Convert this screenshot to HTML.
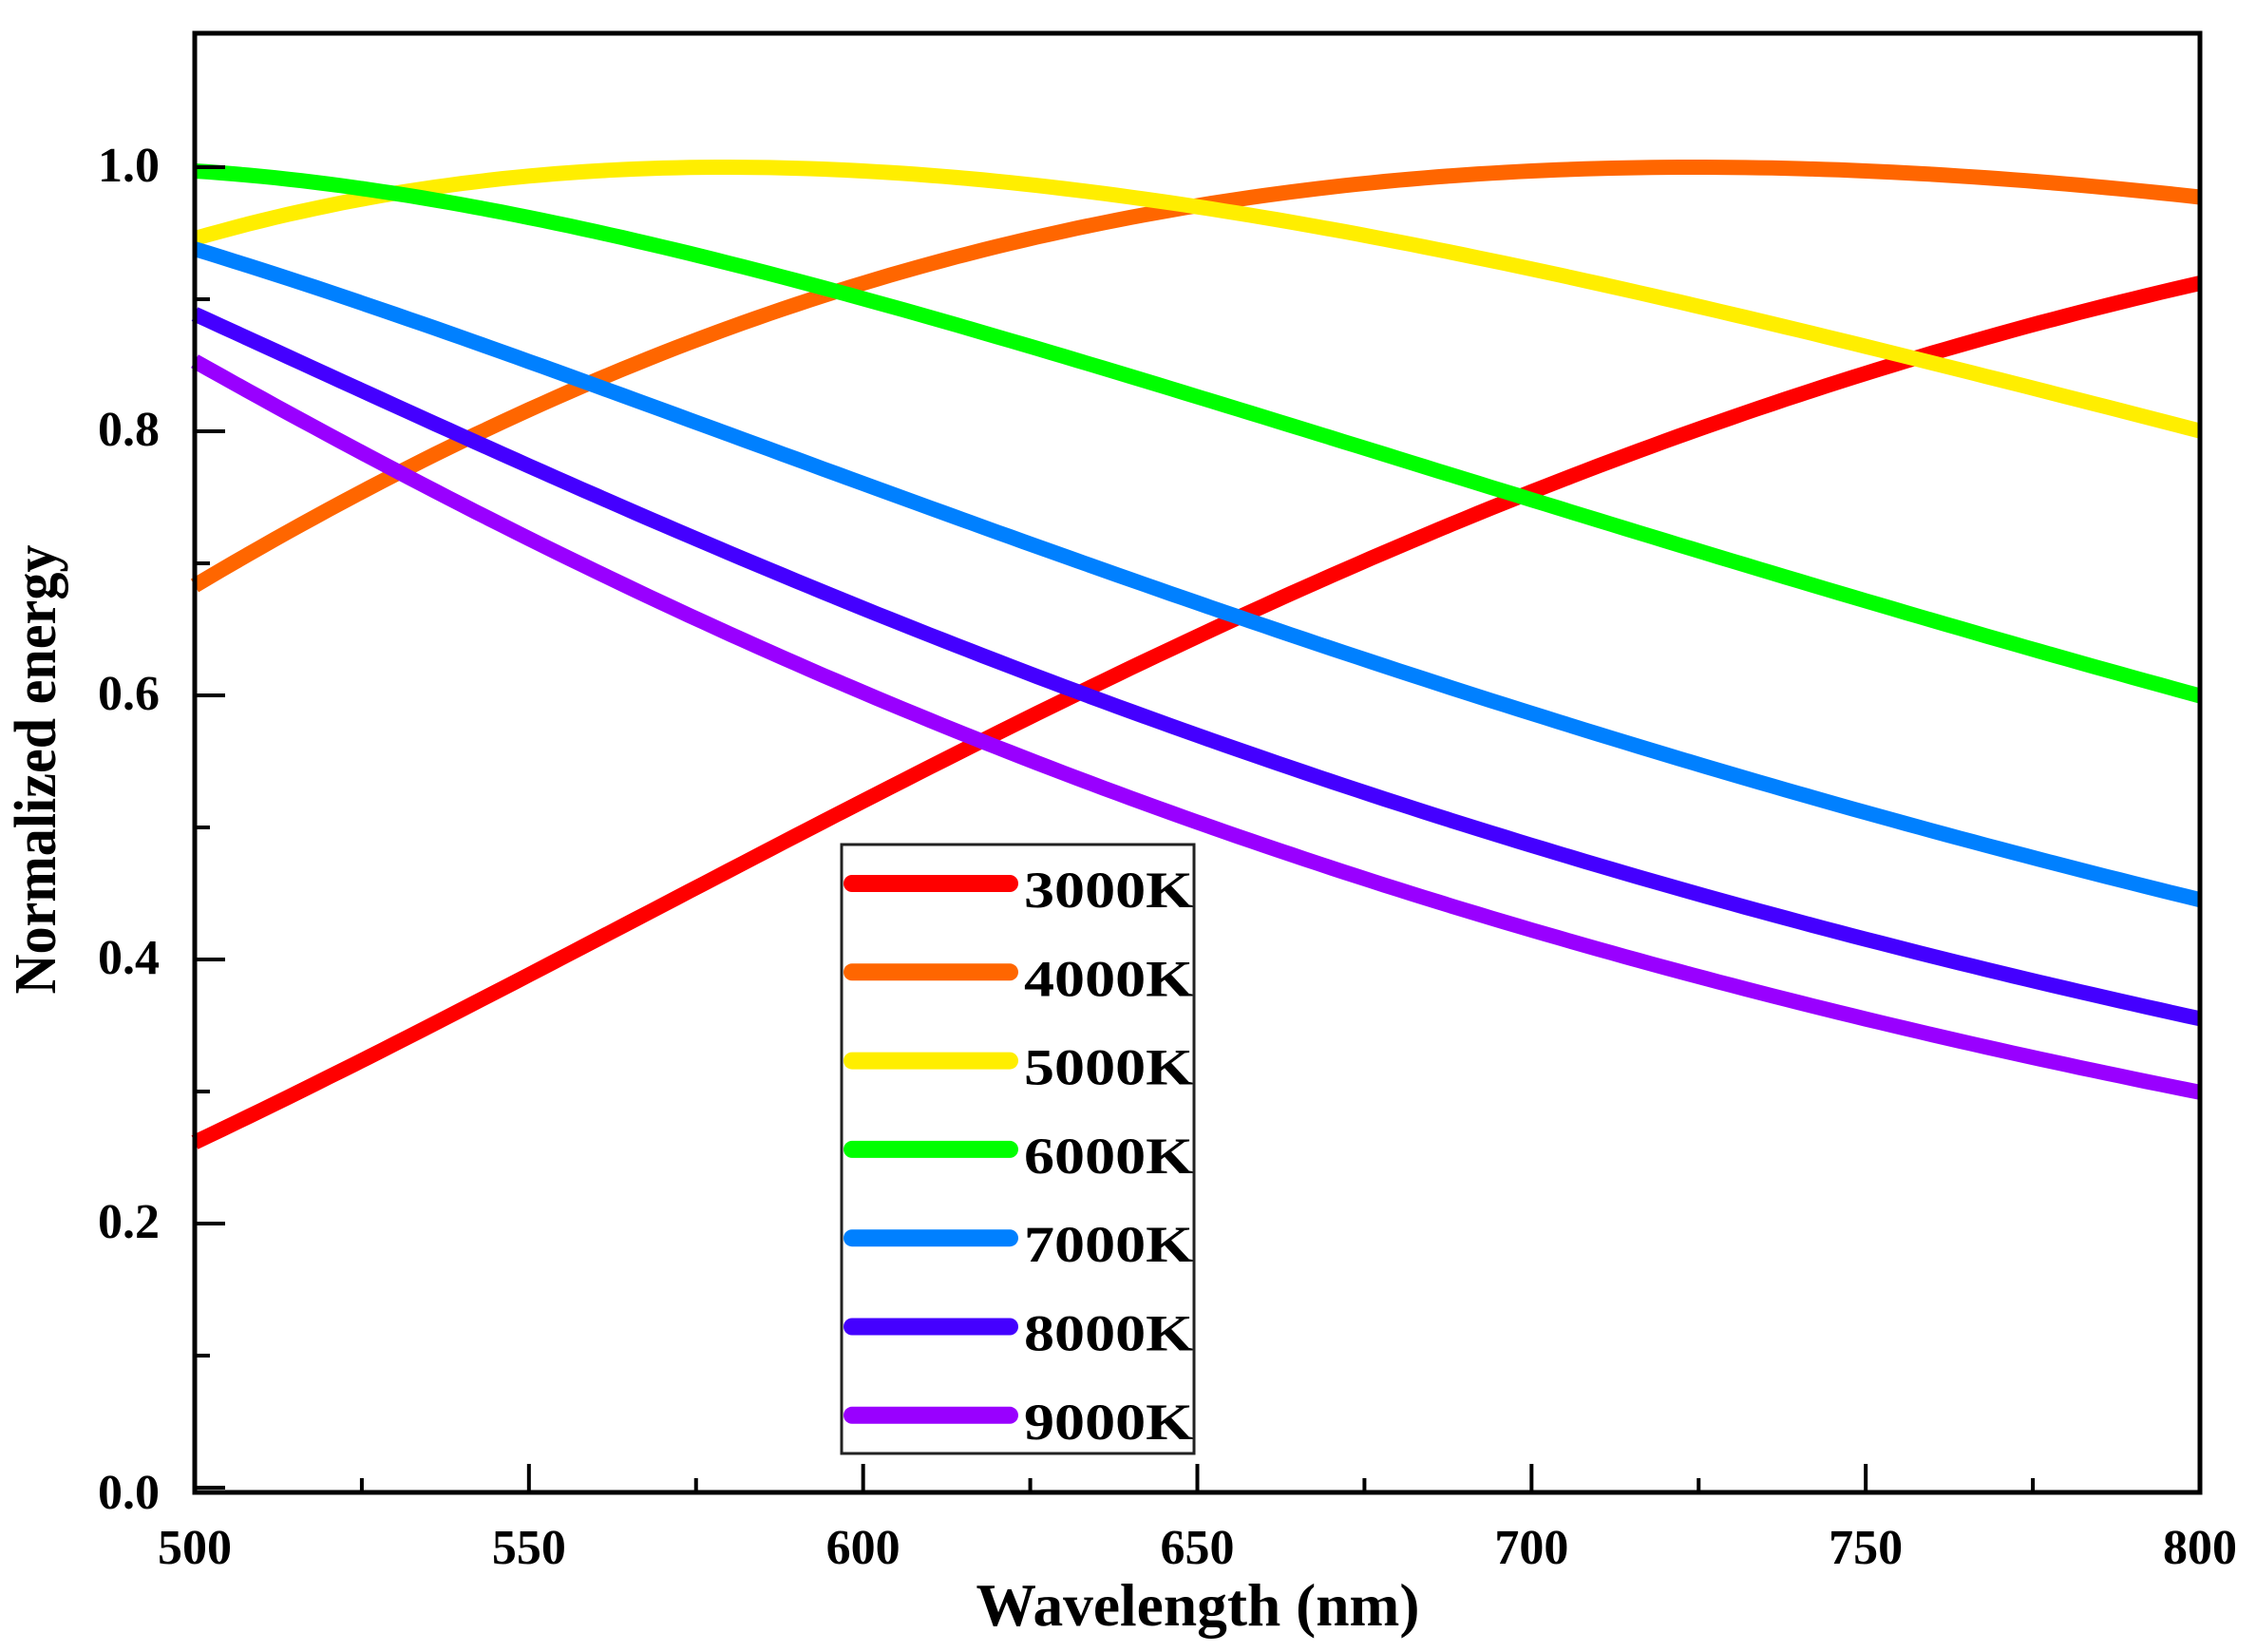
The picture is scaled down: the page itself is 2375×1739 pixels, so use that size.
<!DOCTYPE html>
<html><head><meta charset="utf-8"><style>
html,body{margin:0;padding:0;background:#fff;}
svg{display:block;}
text{font-family:"Liberation Serif",serif;font-weight:bold;fill:#000;}
</style></head><body>
<svg id="s" width="2375" height="1739" viewBox="0 0 2375 1739" xmlns="http://www.w3.org/2000/svg">
<rect width="2375" height="1739" fill="#fff"/>
<g id="curves" fill="none" stroke-width="16" stroke-linecap="butt"></g>
<g id="axes" stroke="#000" fill="none"></g>
<rect x="886" y="889" width="371" height="641" fill="#fff" stroke="#222" stroke-width="3"/>
<g id="leg"></g>
<g id="labels" font-size="52"></g>
<text x="1261" y="1711" font-size="64" text-anchor="middle" textLength="467" lengthAdjust="spacingAndGlyphs">Wavelength (nm)</text>
<text transform="translate(58,810) rotate(-90)" font-size="62" text-anchor="middle" textLength="473" lengthAdjust="spacingAndGlyphs">Normalized energy</text>
</svg>
<script>
(function(){
var NS="http://www.w3.org/2000/svg";
function el(t,a,p,txt){var e=document.createElementNS(NS,t);for(var k in a)e.setAttribute(k,a[k]);if(txt)e.textContent=txt;p.appendChild(e);return e;}
var X0=205,X1=2316,Y0=1566,SY=1390;
function px(l){return X0+(l-500)*(X1-X0)/300;}
function py(v){return Y0-v*SY;}
var c2=1.4388e7;
function B(l,T){return Math.pow(l,-5)/(Math.exp(c2/(l*T))-1);}
var series=[[3000,"#ff0000"],[4000,"#ff6600"],[5000,"#ffee00"],[6000,"#00ff00"],[7000,"#0080ff"],[8000,"#4400ff"],[9000,"#9900ff"]];
var cg=document.getElementById("curves");
series.forEach(function(s){
 var T=s[0],lp=Math.max(450,2.8978e6/T),bm=B(lp,T),d="";
 for(var l=500;l<=800;l+=2){d+=(l==500?"M":"L")+px(l).toFixed(1)+","+py(B(l,T)/bm).toFixed(1);}
 el("path",{d:d,stroke:s[1]},cg);
});
var ag=document.getElementById("axes");
el("rect",{x:X0,y:35,width:X1-X0,height:1571-35,"stroke-width":5},ag);
var lg=document.getElementById("labels");
for(var l=500;l<=800;l+=25){
 var maj=(l%50==0),x=px(l);
 el("line",{x1:x,y1:1571,x2:x,y2:1571-(maj?30:15),"stroke-width":4},ag);
 if(maj)el("text",{x:x,y:1646,"text-anchor":"middle"},lg,String(l));
}
for(var i=0;i<=10;i++){
 var v=i/10,y=py(v),maj=(i%2==0);
 el("line",{x1:X0,y1:y,x2:X0+(maj?32:16),y2:y,"stroke-width":4},ag);
 if(maj)el("text",{x:168,y:(i==0?y+22:y+15),"text-anchor":"end"},lg,v.toFixed(1));
}
var leg=document.getElementById("leg");
series.forEach(function(s,i){
 var y=930+i*93.3;
 el("line",{x1:897,y1:y,x2:1063,y2:y,stroke:s[1],"stroke-width":18,"stroke-linecap":"round"},leg);
 el("text",{x:1078,y:y+25,"font-size":54,textLength:178,lengthAdjust:"spacingAndGlyphs"},leg,s[0]+"K");
});
})();
</script>
</body></html>
